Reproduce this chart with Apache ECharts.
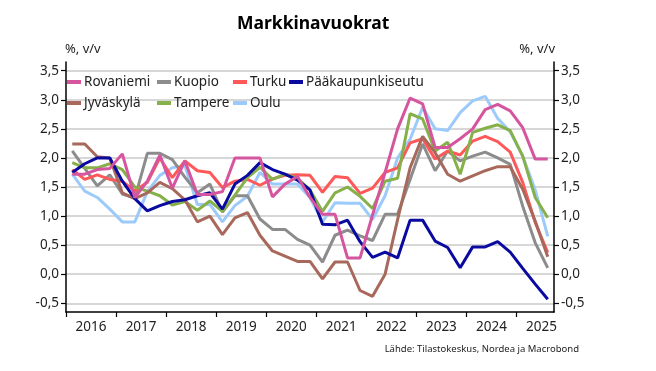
<!DOCTYPE html>
<html><head><meta charset="utf-8">
<script src="https://cdn.jsdelivr.net/npm/echarts@6/dist/echarts.min.js"></script>
<style>html,body{margin:0;padding:0;background:#fff}#c{width:656px;height:371px}</style>
</head><body><div id="c"></div>
<script>
const quarters = ['2016Q1','2016Q2','2016Q3','2016Q4','2017Q1','2017Q2','2017Q3','2017Q4','2018Q1','2018Q2','2018Q3','2018Q4','2019Q1','2019Q2','2019Q3','2019Q4','2020Q1','2020Q2','2020Q3','2020Q4','2021Q1','2021Q2','2021Q3','2021Q4','2022Q1','2022Q2','2022Q3','2022Q4','2023Q1','2023Q2','2023Q3','2023Q4','2024Q1','2024Q2','2024Q3','2024Q4','2025Q1','2025Q2','2025Q3'];
const rovaniemi = [1.72,1.72,1.8,1.82,2.07,1.32,1.6,2.05,1.48,1.95,1.37,1.37,1.42,2.0,2.0,2.0,1.33,1.55,1.68,1.32,1.03,1.03,0.28,0.28,1.02,1.75,2.5,3.03,2.93,2.18,2.18,2.33,2.5,2.83,2.92,2.81,2.52,1.98,1.98];
const kuopio = [2.12,1.82,1.52,1.71,1.38,1.31,2.08,2.08,1.97,1.67,1.4,1.55,1.07,1.35,1.35,0.95,0.77,0.77,0.6,0.5,0.21,0.67,0.76,0.66,0.58,1.03,1.03,1.63,2.24,1.78,2.12,1.95,2.03,2.1,2.0,1.89,1.17,0.54,0.11];
const turku = [1.8,1.63,1.71,1.63,1.6,1.43,1.58,2.0,1.66,1.95,1.78,1.75,1.49,1.6,1.63,1.53,1.64,1.7,1.71,1.7,1.41,1.68,1.66,1.39,1.48,1.75,1.83,2.26,2.33,1.98,2.12,2.05,2.29,2.37,2.28,2.1,1.58,0.89,0.37];
const paakaupunkiseutu = [1.75,1.9,2.0,2.0,1.6,1.3,1.09,1.18,1.25,1.28,1.35,1.4,1.12,1.55,1.7,1.92,1.8,1.72,1.62,1.45,0.86,0.85,0.93,0.56,0.29,0.38,0.28,0.93,0.93,0.57,0.46,0.11,0.47,0.47,0.56,0.38,0.1,-0.17,-0.43];
const jyvaskyla = [2.24,2.24,2.02,2.0,1.4,1.3,1.4,1.58,1.47,1.28,0.9,1.0,0.68,0.97,1.06,0.67,0.4,0.31,0.22,0.22,-0.08,0.21,0.21,-0.28,-0.38,0.0,0.94,1.83,2.37,2.09,1.72,1.6,1.69,1.78,1.85,1.85,1.46,0.91,0.3];
const tampere = [1.92,1.83,1.83,1.9,1.8,1.5,1.43,1.35,1.19,1.25,1.1,1.26,1.08,1.36,1.66,1.84,1.63,1.72,1.65,1.45,1.08,1.4,1.5,1.34,1.13,1.6,1.65,2.76,2.67,2.12,2.27,1.72,2.44,2.51,2.57,2.47,2.03,1.32,0.97];
const oulu = [1.72,1.43,1.32,1.12,0.9,0.9,1.42,1.7,1.83,1.87,1.2,1.2,0.9,1.18,1.34,1.75,1.55,1.55,1.55,1.32,0.9,1.23,1.22,1.22,0.94,1.35,2.0,2.32,2.87,2.5,2.47,2.78,2.98,3.06,2.68,2.45,2.03,1.45,0.65];
const yTicks = [-0.5,0,0.5,1,1.5,2,2.5,3,3.5];
const years = [2016,2017,2018,2019,2020,2021,2022,2023,2024,2025];

const FONT = 'Noto Sans';
function toX(q){ return +q.slice(0,4) + (+q.slice(5) - 0.5) / 4; }
function pairs(arr){ return arr.map((v,i) => [toX(quarters[i]), v]); }

const seriesDefs = [
  {name:'Oulu', data:oulu, color:'#9ccbfb'},
  {name:'Kuopio', data:kuopio, color:'#8c8c8c'},
  {name:'Turku', data:turku, color:'#ff5858'},
  {name:'Tampere', data:tampere, color:'#86b04a'},
  {name:'Jyväskylä', data:jyvaskyla, color:'#a8695c'},
  {name:'Pääkaupunkiseutu', data:paakaupunkiseutu, color:'#0a0aa0'},
  {name:'Rovaniemi', data:rovaniemi, color:'#d6559f'}
];
const legendPos = [
  ['Rovaniemi',67,75],['Kuopio',157,75],['Turku',233,75],['Pääkaupunkiseutu',289,75],
  ['Jyväskylä',67,96],['Tampere',157,96],['Oulu',233,96]
];

const yFmt = v => v.toFixed(1).replace('.', ',');
function yAxisDef(pos){
  return {
    type:'value', min:-0.65, max:3.65, position:pos,
    axisLine:{show:true, onZero:false, lineStyle:{color:'#000', width:1.5}},
    axisTick:{show:true, customValues:yTicks, length:5, lineStyle:{color:'#000', width:1.2}},
    axisLabel:{show:true, customValues:yTicks, formatter:yFmt, color:'#222', fontFamily:FONT, fontSize:13.5, margin:7},
    splitLine:{show: pos==='left', lineStyle:{color:'#cacaca', width:1.5}}
  };
}

const chart = echarts.init(document.getElementById('c'), null, {renderer:'canvas'});
chart.setOption({
  animation:false,
  backgroundColor:'#fff',
  title:[
    {text:'Markkinavuokrat', left:232, top:10, textStyle:{fontFamily:FONT, fontWeight:'bold', fontSize:17.5, color:'#000'}},
    {text:'Lähde: Tilastokeskus, Nordea ja Macrobond', right:72, top:339, textStyle:{fontFamily:FONT, fontWeight:'normal', fontSize:9.5, color:'#222'}}
  ],
  graphic:[
    {type:'text', left:65, top:43, style:{text:'%, v/v', font:'13px "Noto Sans"', fill:'#222'}},
    {type:'text', right:101, top:43, style:{text:'%, v/v', font:'13px "Noto Sans"', fill:'#222'}}
  ],
  legend: legendPos.map(([n,l,t]) => ({
    data:[{name:n, icon:'rect'}], left:l, top:t, padding:0, itemWidth:14, itemHeight:4, itemGap:0,
    textStyle:{fontFamily:FONT, fontSize:13.5, color:'#222', padding:[0,0,0,-2]}
  })),
  grid:{left:66, right:102, top:62, bottom:59},
  xAxis:{
    type:'value', min:2016, max:2025.75,
    axisLine:{show:true, onZero:false, lineStyle:{color:'#000', width:1.5}},
    axisTick:{show:true, customValues:years, length:5, lineStyle:{color:'#000', width:1.2}},
    axisLabel:{show:true, customValues:years.map(y => y + 0.5), formatter:v => String(Math.floor(v)), color:'#222', fontFamily:FONT, fontSize:13.5, margin:8},
    splitLine:{show:false}
  },
  yAxis:[yAxisDef('left'), yAxisDef('right')],
  series: seriesDefs.map(s => ({
    name:s.name, type:'line', data:pairs(s.data), yAxisIndex:0, showSymbol:false, symbol:'none',
    lineStyle:{color:s.color, width:3}, itemStyle:{color:s.color}
  }))
});
</script></body></html>
